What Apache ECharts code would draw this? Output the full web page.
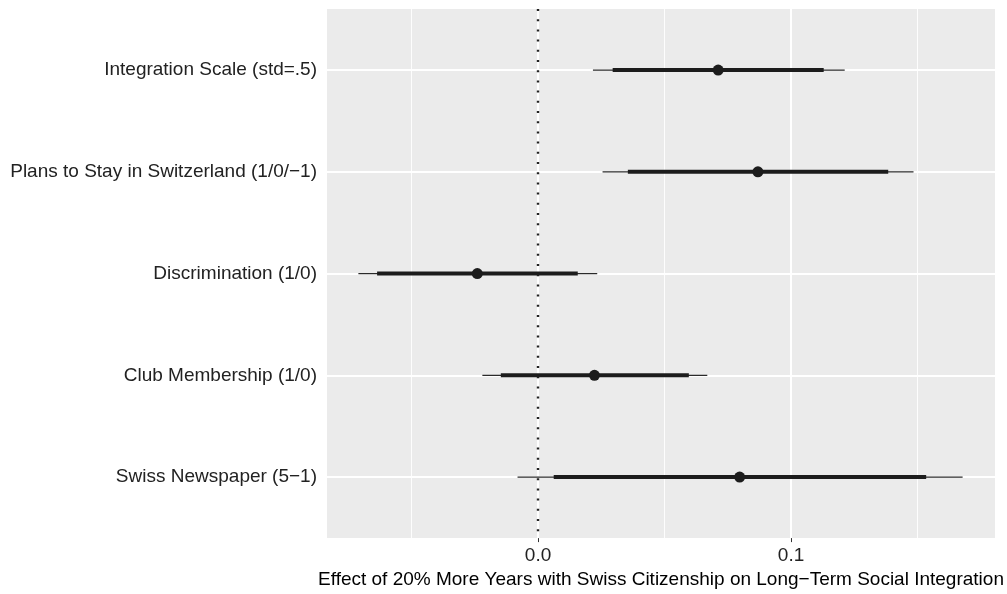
<!DOCTYPE html>
<html>
<head>
<meta charset="utf-8">
<script src="https://cdn.jsdelivr.net/npm/echarts@6/dist/echarts.min.js"></script>
<style>html,body{margin:0;padding:0;background:#fff;}#c{width:1007px;height:594px;}</style>
</head>
<body>
<div id="c"></div>
<script>
const categories = [
  'Integration Scale (std=.5)',
  'Plans to Stay in Switzerland (1/0/\u22121)',
  'Discrimination (1/0)',
  'Club Membership (1/0)',
  'Swiss Newspaper (5\u22121)'
];
const estimate = [0.0712, 0.0869, -0.0240, 0.0223, 0.0797];
const lo90 = [0.0295, 0.0355, -0.0636, -0.0147, 0.0062];
const hi90 = [0.1129, 0.1384, 0.0157, 0.0596, 0.1534];
const lo95 = [0.0217, 0.0255, -0.0710, -0.0220, -0.0081];
const hi95 = [0.1212, 0.1484, 0.0234, 0.0669, 0.1678];
const xTickLabels = [0, 0.1];
const xMinorGrid = [-0.05, 0.05, 0.15];
const xTitle = 'Effect of 20% More Years with Swiss Citizenship on Long\u2212Term Social Integration';

const FONT = '"Liberation Sans", Helvetica, Arial, sans-serif';
const rows = categories.map((c, i) => [i + 1, lo95[i], lo90[i], estimate[i], hi90[i], hi95[i]]);
const yPos = categories.map((c, i) => i + 1);

const chart = echarts.init(document.getElementById('c'), null, {renderer: 'canvas'});
chart.setOption({
  animation: false,
  backgroundColor: '#ffffff',
  grid: {left: 327, right: 12, top: 9, bottom: 54, show: true, backgroundColor: '#EBEBEB', borderWidth: 0},
  xAxis: {
    type: 'value', min: -0.0834, max: 0.1806,
    axisLine: {show: false},
    axisTick: {show: true, length: 4, lineStyle: {color: '#333', width: 1}, customValues: xTickLabels},
    axisLabel: {customValues: xTickLabels, formatter: v => Number(v).toFixed(1), color: '#222', fontSize: 19, fontFamily: FONT, margin: 8},
    splitLine: {show: false},
    name: xTitle, nameLocation: 'middle', nameGap: 31,
    nameTextStyle: {color: '#000', fontSize: 19, fontFamily: FONT}
  },
  yAxis: {
    type: 'value', min: 0.4, max: 5.6, inverse: true,
    axisLine: {show: false},
    axisTick: {show: true, length: 4, lineStyle: {color: '#333', width: 1}, customValues: yPos},
    axisLabel: {customValues: yPos, formatter: v => categories[Math.round(v) - 1] || '', color: '#222', fontSize: 19, fontFamily: FONT, margin: 10},
    splitLine: {show: false}
  },
  series: [
    {type: 'line', data: [], z: 1, silent: true,
      markLine: {z: 1, silent: true, symbol: ['none', 'none'], label: {show: false}, animation: false,
        lineStyle: {color: '#ffffff', width: 0.9, type: 'solid'},
        data: xMinorGrid.map(v => ({xAxis: v}))}},
    {type: 'line', data: [], z: 1, silent: true,
      markLine: {z: 1, silent: true, symbol: ['none', 'none'], label: {show: false}, animation: false,
        lineStyle: {color: '#ffffff', width: 2, type: 'solid'},
        data: xTickLabels.map(v => ({xAxis: v})).concat(yPos.map(v => ({yAxis: v})))}},
    {type: 'line', data: [], z: 2, silent: true,
      markLine: {z: 2, silent: true, symbol: ['none', 'none'], label: {show: false}, animation: false,
        lineStyle: {color: '#222', width: 2.4, type: [2, 8.2], cap: 'butt'},
        data: [{xAxis: 0}]}},
    {
      type: 'custom', z: 10, silent: true,
      data: rows,
      encode: {x: [1, 2, 3, 4, 5], y: 0},
      renderItem: function (params, api) {
        const y = api.value(0);
        const a95 = api.coord([api.value(1), y]);
        const b95 = api.coord([api.value(5), y]);
        const a90 = api.coord([api.value(2), y]);
        const b90 = api.coord([api.value(4), y]);
        const p = api.coord([api.value(3), y]);
        return {type: 'group', children: [
          {type: 'line', shape: {x1: a95[0], y1: a95[1], x2: b95[0], y2: b95[1]}, style: {stroke: '#2a2a2a', lineWidth: 1.3}},
          {type: 'line', shape: {x1: a90[0], y1: a90[1], x2: b90[0], y2: b90[1]}, style: {stroke: '#1c1c1c', lineWidth: 4}},
          {type: 'circle', shape: {cx: p[0], cy: p[1], r: 5.5}, style: {fill: '#1c1c1c'}}
        ]};
      }
    }
  ]
});
</script>
</body>
</html>
